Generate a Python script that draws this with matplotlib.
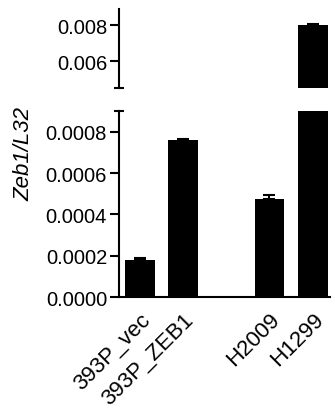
import matplotlib.pyplot as plt

plt.rcParams['font.family'] = ['Liberation Sans', 'DejaVu Sans']

labels = ['393P_vec', '393P_ZEB1', 'H2009', 'H1299']
positions = [0, 1, 3, 4]
values = [0.000179, 0.000760, 0.000476, 0.00802]
errors = [0.000010, 0.000004, 0.000020, 0.00003]

fig = plt.figure(figsize=(3.35, 4.14), dpi=100)
ax_top = fig.add_axes([0.355, 0.785, 0.63, 0.191])
ax_bot = fig.add_axes([0.355, 0.280, 0.63, 0.449])

for ax in (ax_top, ax_bot):
    ax.bar(positions, values, width=0.69, color='black',
           yerr=[[0] * len(errors), errors], capsize=4,
           error_kw=dict(elinewidth=1.5, capthick=1.5, ecolor='black'))
    ax.set_xlim(-0.485, 4.4)
    for s in ['top', 'right']:
        ax.spines[s].set_visible(False)
    ax.spines['left'].set_linewidth(1.5)
    ax.spines['bottom'].set_linewidth(1.5)
    ax.tick_params(axis='y', length=6.5, width=1.5, labelsize=14.5, pad=2)

ax_top.set_ylim(0.0045, 0.0089)
ax_top.set_yticks([0.006, 0.008])
ax_top.set_yticklabels(['0.006', '0.008'])
ax_top.spines['bottom'].set_visible(False)
ax_top.set_xticks([])
ax_top.set_yticks([0.0045], minor=True)
ax_top.tick_params(axis='y', which='minor', direction='inout', length=7, width=1.5)

ax_bot.set_ylim(0, 0.0009)
ax_bot.set_yticks([0, 0.0002, 0.0004, 0.0006, 0.0008])
ax_bot.set_yticklabels(['0.0000', '0.0002', '0.0004', '0.0006', '0.0008'])
ax_bot.set_yticks([0.0009], minor=True)
ax_bot.tick_params(axis='y', which='minor', direction='inout', length=7, width=1.5)
ax_bot.set_xticks(positions)
ax_bot.set_xticklabels(labels, rotation=45, ha='right', rotation_mode='anchor', fontsize=16)
ax_bot.tick_params(axis='x', length=0, pad=8)
ax_bot.set_ylabel('Zeb1/L32', fontstyle='italic', fontsize=16)
ax_bot.yaxis.set_label_coords(-0.40, 0.774)

fig.savefig('out.png', dpi=100)
